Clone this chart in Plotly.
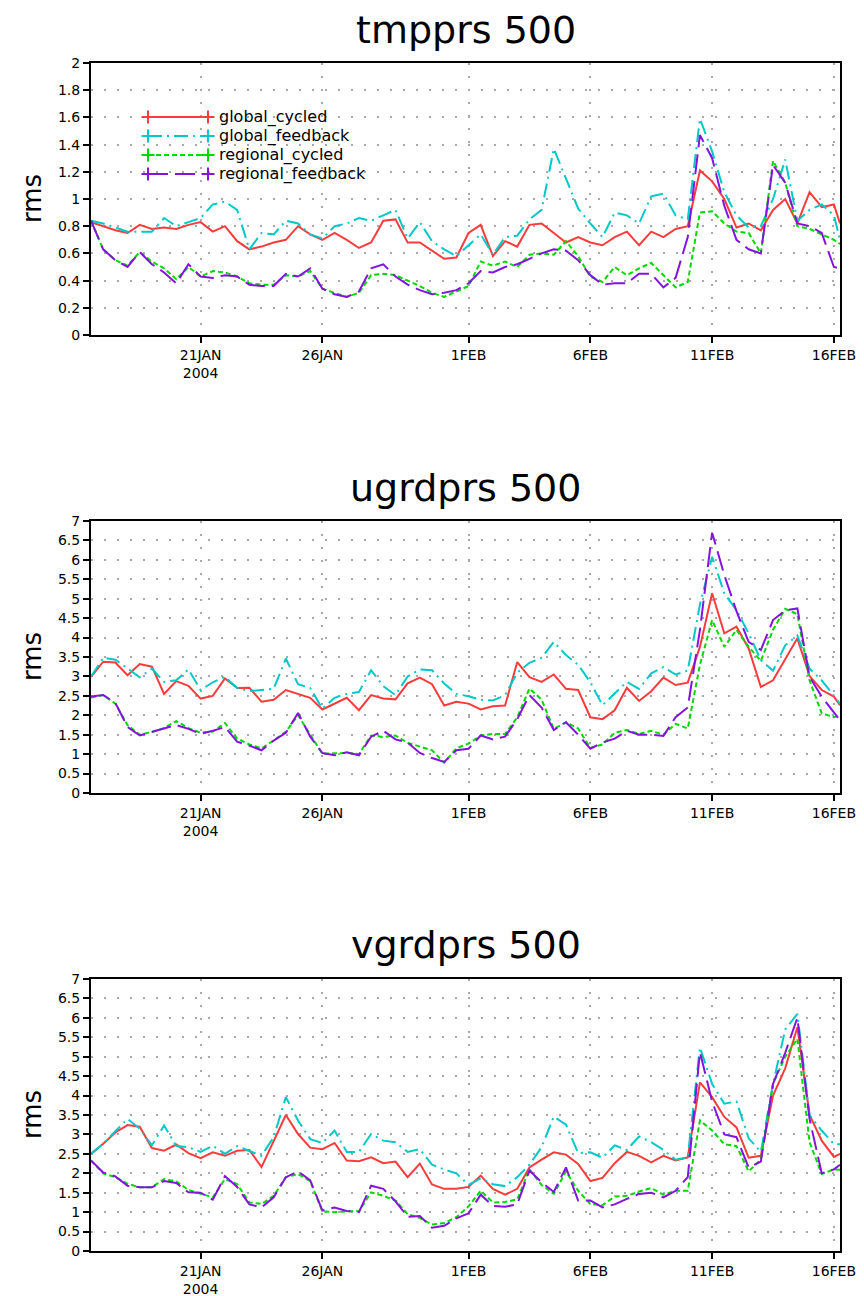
import pandas as pd
import plotly.graph_objects as go
from plotly.subplots import make_subplots

# 12-hourly times from 16 Jan 2004 12Z, plus final point at 16 Feb 06Z
times = list(pd.date_range("2004-01-16 12:00", periods=62, freq="12h").strftime("%Y-%m-%d %H:%M")) + ["2004-02-16 06:00"]

series_names = ["global_cycled", "global_feedback", "regional_cycled", "regional_feedback"]

# ---- tmpprs 500 ----
tmp_global_cycled = [0.83, 0.80, 0.77, 0.75, 0.81, 0.78, 0.79, 0.78, 0.81, 0.83, 0.76, 0.80, 0.69, 0.63, 0.65, 0.68,
                     0.70, 0.80, 0.74, 0.70, 0.75, 0.70, 0.64, 0.68, 0.84, 0.85, 0.68, 0.68, 0.62, 0.56, 0.57, 0.75,
                     0.81, 0.58, 0.69, 0.65, 0.81, 0.82, 0.75, 0.68, 0.72, 0.68, 0.66, 0.72, 0.76, 0.66, 0.76,
                     0.72, 0.78, 0.80, 1.21, 1.13, 1.00, 0.79, 0.82, 0.77, 0.92, 1.00, 0.82, 1.05, 0.94, 0.96, 0.82]
tmp_global_feedback = [0.84, 0.82, 0.79, 0.76, 0.76, 0.76, 0.86, 0.80, 0.83, 0.86, 0.96, 0.98, 0.92, 0.63, 0.75, 0.74,
                       0.84, 0.82, 0.74, 0.71, 0.80, 0.82, 0.86, 0.84, 0.88, 0.92, 0.71, 0.83, 0.69, 0.63, 0.58, 0.66,
                       0.74, 0.59, 0.72, 0.73, 0.85, 0.92, 1.37, 1.15, 0.93, 0.82, 0.72, 0.90, 0.88, 0.82, 1.02,
                       1.04, 0.88, 0.85, 1.59, 1.35, 1.05, 0.88, 0.79, 0.80, 1.00, 1.29, 0.84, 0.92, 0.96, 0.88, 0.70]
tmp_regional_cycled = [0.84, 0.63, 0.55, 0.51, 0.61, 0.54, 0.49, 0.41, 0.50, 0.43, 0.47, 0.46, 0.43, 0.38, 0.37, 0.37,
                       0.44, 0.43, 0.47, 0.34, 0.31, 0.28, 0.31, 0.44, 0.45, 0.44, 0.40, 0.36, 0.31, 0.28, 0.32, 0.36,
                       0.54, 0.51, 0.54, 0.50, 0.59, 0.60, 0.59, 0.69, 0.58, 0.43, 0.39, 0.50, 0.44, 0.49, 0.53,
                       0.44, 0.35, 0.39, 0.90, 0.91, 0.82, 0.76, 0.75, 0.60, 1.28, 1.12, 0.80, 0.78, 0.74, 0.70, 0.67]
tmp_regional_feedback = [0.84, 0.63, 0.55, 0.50, 0.61, 0.52, 0.46, 0.38, 0.52, 0.43, 0.42, 0.44, 0.43, 0.37, 0.36, 0.36,
                         0.45, 0.43, 0.49, 0.34, 0.30, 0.28, 0.32, 0.49, 0.52, 0.43, 0.37, 0.33, 0.30, 0.31, 0.33, 0.38,
                         0.47, 0.46, 0.50, 0.52, 0.56, 0.60, 0.63, 0.62, 0.55, 0.44, 0.37, 0.38, 0.38, 0.45, 0.45,
                         0.35, 0.42, 0.72, 1.47, 1.30, 0.95, 0.70, 0.63, 0.60, 1.25, 1.12, 0.82, 0.80, 0.75, 0.50, 0.49]

# ---- ugrdprs 500 ----
ugrd_global_cycled = [2.99, 3.38, 3.36, 3.03, 3.32, 3.25, 2.55, 2.88, 2.76, 2.43, 2.50, 2.95, 2.70, 2.71, 2.35, 2.40,
                      2.65, 2.55, 2.45, 2.15, 2.30, 2.45, 2.13, 2.52, 2.43, 2.41, 2.82, 2.97, 2.80, 2.25, 2.35, 2.30,
                      2.15, 2.23, 2.25, 3.37, 2.98, 2.86, 3.05, 2.68, 2.65, 1.95, 1.90, 2.13, 2.71, 2.37, 2.62,
                      2.97, 2.78, 2.84, 3.76, 5.14, 4.11, 4.28, 3.72, 2.73, 2.90, 3.44, 3.98, 3.01, 2.65, 2.48, 2.26]
ugrd_global_feedback = [2.99, 3.48, 3.43, 3.20, 2.98, 3.20, 2.86, 2.90, 3.18, 2.65, 2.85, 2.99, 2.70, 2.62, 2.65, 2.68,
                        3.46, 2.80, 2.70, 2.17, 2.45, 2.55, 2.60, 3.16, 2.75, 2.52, 3.00, 3.18, 3.16, 2.82, 2.55, 2.49,
                        2.40, 2.38, 2.52, 3.10, 3.35, 3.48, 3.89, 3.55, 3.30, 2.85, 2.26, 2.55, 2.86, 2.68, 3.08,
                        3.24, 3.05, 3.15, 4.85, 6.08, 5.14, 4.70, 4.11, 3.42, 3.15, 3.80, 4.05, 3.20, 2.90, 2.50, 2.30]
ugrd_regional_cycled = [2.46, 2.52, 2.30, 1.75, 1.50, 1.57, 1.67, 1.85, 1.67, 1.55, 1.58, 1.80, 1.40, 1.25, 1.15, 1.35,
                        1.58, 2.00, 1.50, 1.01, 1.02, 1.03, 1.00, 1.48, 1.44, 1.48, 1.29, 1.20, 1.10, 0.78, 1.15, 1.27,
                        1.48, 1.52, 1.52, 1.95, 2.69, 2.40, 1.65, 1.82, 1.66, 1.16, 1.25, 1.55, 1.62, 1.52, 1.60,
                        1.50, 1.78, 1.66, 3.30, 4.45, 3.76, 4.20, 3.76, 3.40, 4.20, 4.74, 4.60, 2.90, 2.05, 1.95, 2.00]
ugrd_regional_feedback = [2.48, 2.52, 2.32, 1.70, 1.48, 1.57, 1.66, 1.75, 1.65, 1.52, 1.60, 1.70, 1.32, 1.22, 1.10, 1.35,
                          1.55, 2.06, 1.45, 1.03, 0.97, 1.05, 0.97, 1.45, 1.60, 1.38, 1.30, 1.03, 0.90, 0.80, 1.10, 1.14,
                          1.48, 1.38, 1.45, 1.90, 2.52, 2.20, 1.62, 1.82, 1.50, 1.14, 1.30, 1.40, 1.60, 1.50, 1.50,
                          1.47, 1.95, 2.20, 4.20, 6.70, 5.61, 4.68, 3.89, 3.68, 4.45, 4.70, 4.75, 2.99, 2.48, 2.06, 1.87]

# ---- vgrdprs 500 ----
vgrd_global_cycled = [2.50, 2.76, 3.05, 3.24, 3.20, 2.65, 2.58, 2.74, 2.52, 2.39, 2.54, 2.45, 2.58, 2.60, 2.16, 2.84,
                      3.50, 3.01, 2.66, 2.62, 2.78, 2.33, 2.31, 2.41, 2.26, 2.30, 1.90, 2.25, 1.71, 1.60, 1.60, 1.65,
                      1.94, 1.60, 1.45, 1.60, 2.15, 2.35, 2.54, 2.48, 2.24, 1.80, 1.88, 2.26, 2.55, 2.45, 2.28,
                      2.45, 2.33, 2.41, 4.34, 3.96, 3.45, 3.18, 2.40, 2.45, 4.00, 4.70, 5.76, 3.50, 2.84, 2.42, 2.50]
vgrd_global_feedback = [2.50, 2.76, 3.08, 3.40, 3.15, 2.72, 3.23, 2.70, 2.67, 2.55, 2.71, 2.50, 2.70, 2.58, 2.45, 2.93,
                        3.96, 3.36, 2.88, 2.78, 3.10, 2.55, 2.55, 3.01, 2.84, 2.80, 2.55, 2.62, 2.22, 2.10, 2.00, 1.70,
                        1.87, 1.72, 1.67, 1.90, 2.22, 2.67, 3.46, 3.25, 2.52, 2.54, 2.40, 2.72, 2.60, 2.95, 2.80,
                        2.60, 2.35, 2.41, 5.24, 4.30, 3.79, 3.85, 2.90, 2.55, 4.30, 5.70, 6.10, 3.50, 3.10, 2.75, 2.75]
vgrd_regional_cycled = [2.33, 2.00, 1.90, 1.73, 1.64, 1.64, 1.85, 1.79, 1.57, 1.48, 1.38, 1.85, 1.72, 1.25, 1.21, 1.42,
                        1.90, 1.98, 1.80, 1.02, 1.00, 1.02, 1.02, 1.51, 1.42, 1.30, 0.95, 0.85, 0.68, 0.72, 0.87, 1.15,
                        1.55, 1.25, 1.26, 1.33, 2.10, 1.70, 1.47, 2.05, 1.55, 1.21, 1.18, 1.40, 1.42, 1.53, 1.62,
                        1.45, 1.55, 1.55, 3.36, 3.10, 2.75, 2.70, 2.05, 2.35, 4.30, 5.00, 5.46, 2.80, 1.98, 2.10, 2.09]
vgrd_regional_feedback = [2.33, 2.02, 1.92, 1.68, 1.64, 1.64, 1.80, 1.75, 1.51, 1.50, 1.32, 1.93, 1.65, 1.20, 1.12, 1.38,
                          1.90, 2.05, 1.82, 1.04, 1.12, 1.03, 1.00, 1.68, 1.60, 1.28, 0.88, 0.90, 0.60, 0.65, 0.84, 0.97,
                          1.45, 1.16, 1.14, 1.20, 2.07, 1.77, 1.52, 2.15, 1.30, 1.30, 1.12, 1.20, 1.34, 1.47, 1.50,
                          1.38, 1.55, 1.90, 5.12, 3.85, 3.00, 2.93, 2.15, 2.30, 4.30, 5.10, 6.00, 3.40, 2.00, 2.10, 2.22]

panel_titles = ["tmpprs 500", "ugrdprs 500", "vgrdprs 500"]
panel_data = [
    [tmp_global_cycled, tmp_global_feedback, tmp_regional_cycled, tmp_regional_feedback],
    [ugrd_global_cycled, ugrd_global_feedback, ugrd_regional_cycled, ugrd_regional_feedback],
    [vgrd_global_cycled, vgrd_global_feedback, vgrd_regional_cycled, vgrd_regional_feedback],
]
y_ranges = [(0, 2, 0.2), (0, 7, 0.5), (0, 7, 0.5)]

tick_dates = ["2004-01-21", "2004-01-26", "2004-02-01", "2004-02-06", "2004-02-11", "2004-02-16"]
tick_labels = ["21JAN<br>2004", "26JAN", "1FEB", "6FEB", "11FEB", "16FEB"]

colors = ["rgb(250,60,60)", "rgb(0,200,200)", "rgb(0,215,0)", "rgb(130,20,220)"]
dashes = ["solid", "14px,5px,2px,5px", "5px,3px", "20px,7px"]

W, H = 864, 1296
FONT = "DejaVu Sans"

fig = make_subplots(rows=3, cols=1)

for p, data in enumerate(panel_data):
    for s, vals in enumerate(data):
        fig.add_trace(go.Scatter(
            x=times, y=vals, mode="lines", name=series_names[s],
            line=dict(color=colors[s], width=2, dash=dashes[s]),
            showlegend=False,
        ), row=p + 1, col=1)

# plot-area pixel boxes (top, bottom)
boxes = [(63, 335), (521, 793), (979, 1251)]
title_y = [30, 488, 945]
x0, x1 = 91, 840

annotations = []
shapes = []
for p in range(3):
    top, bot = boxes[p]
    xa = "xaxis" if p == 0 else f"xaxis{p+1}"
    ya = "yaxis" if p == 0 else f"yaxis{p+1}"
    lo, hi, dt = y_ranges[p]
    fig.layout[xa].update(
        domain=[x0 / W, x1 / W], type="date", range=[times[0], times[-1]], automargin=False,
        tickmode="array", tickvals=tick_dates, ticktext=tick_labels,
        showgrid=True, gridcolor="#a8a8a8", gridwidth=2, griddash="2px,11px",
        showline=True, linecolor="black", linewidth=2, mirror=True,
        ticks="outside", ticklen=6, tickwidth=2, tickcolor="black",
        tickfont=dict(size=14, color="black", family=FONT), zeroline=False,
    )
    fig.layout[ya].update(
        domain=[1 - bot / H, 1 - top / H], range=[lo, hi], tick0=lo, dtick=dt, automargin=False,
        showgrid=True, gridcolor="#a8a8a8", gridwidth=2, griddash="2px,11px",
        showline=True, linecolor="black", linewidth=2, mirror=True,
        ticks="outside", ticklen=6, tickwidth=2, tickcolor="black",
        tickfont=dict(size=14, color="black", family=FONT), zeroline=False,
    )
    annotations.append(dict(text=panel_titles[p], x=(x0 + x1) / 2 / W, y=1 - title_y[p] / H,
                            xref="paper", yref="paper", showarrow=False, xanchor="center", yanchor="middle",
                            font=dict(size=38, color="black", family=FONT)))
    annotations.append(dict(text="rms", x=32 / W, y=1 - (top + bot) / 2 / H,
                            xref="paper", yref="paper", showarrow=False, xanchor="center", yanchor="middle",
                            textangle=-90, font=dict(size=26, color="black", family=FONT)))

# legend drawn in the top panel (line sample with "+" at both ends, then label)
leg_rows = [117, 136, 155, 174]
lx0, lx1, ltext = 148, 208, 218
plus = 6.5
for s, ry in enumerate(leg_rows):
    yy = 1 - ry / H
    shapes.append(dict(type="line", xref="paper", yref="paper", x0=lx0 / W, x1=lx1 / W, y0=yy, y1=yy,
                       line=dict(color=colors[s], width=2, dash=dashes[s])))
    for cx in (lx0, lx1):
        shapes.append(dict(type="line", xref="paper", yref="paper", x0=(cx - plus) / W, x1=(cx + plus) / W,
                           y0=yy, y1=yy, line=dict(color=colors[s], width=2)))
        shapes.append(dict(type="line", xref="paper", yref="paper", x0=cx / W, x1=cx / W,
                           y0=1 - (ry - plus) / H, y1=1 - (ry + plus) / H, line=dict(color=colors[s], width=2)))
    annotations.append(dict(text=series_names[s], x=ltext / W, y=yy, xref="paper", yref="paper",
                            showarrow=False, xanchor="left", yanchor="middle", borderpad=0,
                            font=dict(size=16, color="black", family=FONT)))

fig.update_layout(
    width=W, height=H, autosize=False,
    margin=dict(l=0, r=0, t=0, b=0, autoexpand=False),
    paper_bgcolor="white", plot_bgcolor="white",
    annotations=annotations, shapes=shapes,
    showlegend=False,
    font=dict(family=FONT, color="black"),
)

fig.write_html("out.html")
